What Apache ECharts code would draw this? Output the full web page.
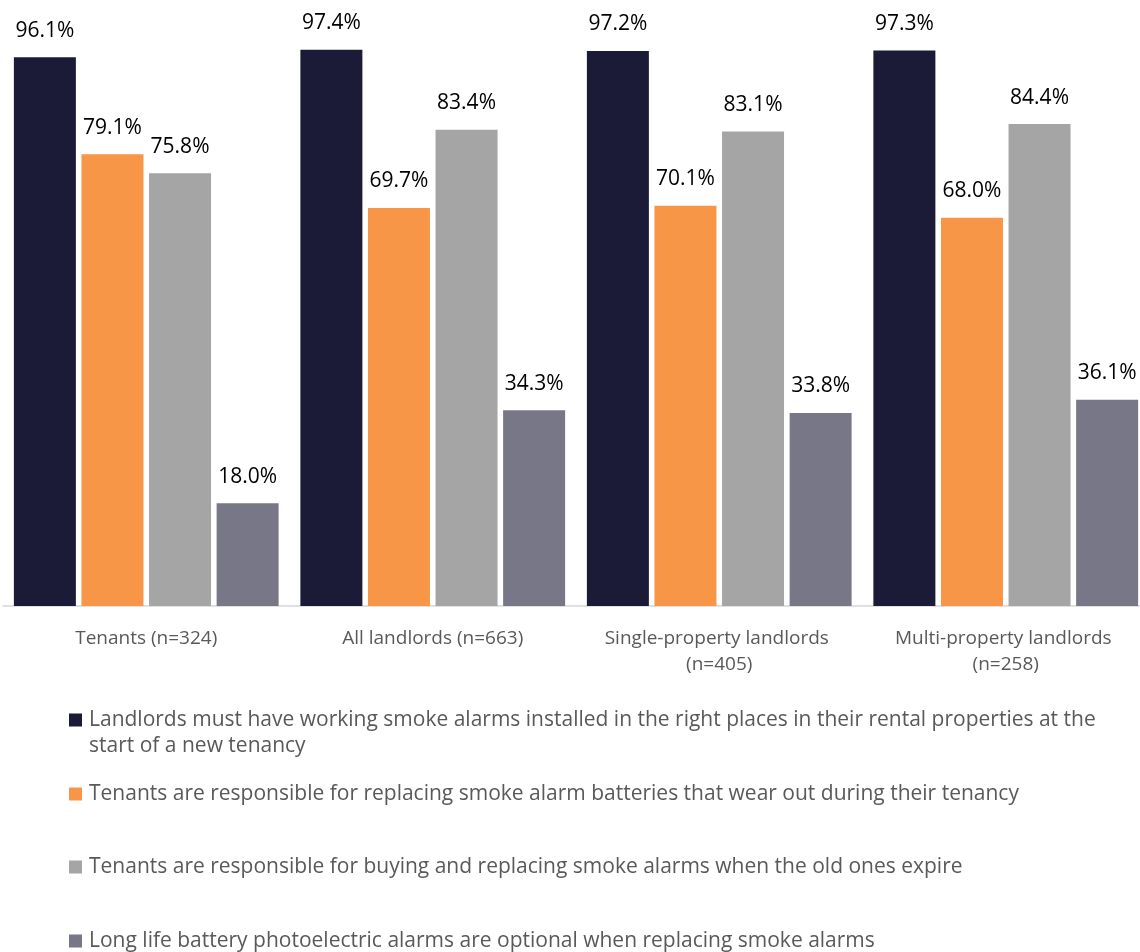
<!DOCTYPE html>
<html>
<head>
<meta charset="utf-8">
<script src="https://cdn.jsdelivr.net/npm/echarts@6/dist/echarts.min.js"></script>
<style>html,body{margin:0;padding:0;background:#fff}#c{width:1140px;height:952px}</style>
</head>
<body>
<div id="c"></div>
<script>
const categories = ['Tenants (n=324)', 'All landlords (n=663)', 'Single-property landlords (n=405)', 'Multi-property landlords (n=258)'];
const seriesNames = [
  'Landlords must have working smoke alarms installed in the right places in their rental properties at the start of a new tenancy',
  'Tenants are responsible for replacing smoke alarm batteries that wear out during their tenancy',
  'Tenants are responsible for buying and replacing smoke alarms when the old ones expire',
  'Long life battery photoelectric alarms are optional when replacing smoke alarms'
];
const landlordsMust = [96.1, 97.4, 97.2, 97.3];
const tenantsBatteries = [79.1, 69.7, 70.1, 68.0];
const tenantsBuying = [75.8, 83.4, 83.1, 84.4];
const longLife = [18.0, 34.3, 33.8, 36.1];
const colors = ['#1b1b38', '#f79646', '#a5a5a5', '#777787'];
const values = [landlordsMust, tenantsBatteries, tenantsBuying, longLife];

const FONT = '"Open Sans", sans-serif';
const legendCenters = [720, 794, 867, 941];

const chart = echarts.init(document.getElementById('c'));
chart.setOption({
  animation: false,
  textStyle: { fontFamily: FONT },
  grid: { left: 3, top: 35, right: -9, height: 571, outerBoundsMode: 'none', containLabel: false },
  xAxis: {
    type: 'category',
    data: categories,
    axisLine: { lineStyle: { color: '#d6d6d6', width: 1.5 } },
    axisTick: { show: false },
    axisLabel: {
      color: '#595959', fontSize: 19, fontFamily: FONT, margin: 20, lineHeight: 26,
      width: 270, overflow: 'break', interval: 0, align: 'center'
    }
  },
  yAxis: { type: 'value', min: 0, max: 100, show: false, splitLine: { show: false } },
  legend: seriesNames.map((n, i) => ({
    data: [n],
    orient: 'vertical',
    left: 69,
    top: i === 0 ? legendCenters[i] - 39 : legendCenters[i] - 13,
    padding: 0,
    itemWidth: 13, itemHeight: 13, itemGap: 0,
    icon: 'rect',
    selectedMode: false,
    formatter: i === 0
      ? (name) => ' \nLandlords must have working smoke alarms installed in the right places in their rental properties at the\nstart of a new tenancy'
      : undefined,
    textStyle: { color: '#595959', fontSize: 21, fontFamily: FONT, lineHeight: 26, padding: [0, 0, 0, 2] }
  })),
  series: seriesNames.map((n, i) => ({
    name: n,
    type: 'bar',
    data: values[i],
    barWidth: 62,
    barGap: '9%',
    itemStyle: { color: colors[i] },
    label: {
      show: true, position: 'top', distance: 16,
      formatter: (p) => p.value.toFixed(1) + '%',
      color: '#000', fontSize: 21, fontFamily: FONT
    }
  }))
});
</script>
</body>
</html>
